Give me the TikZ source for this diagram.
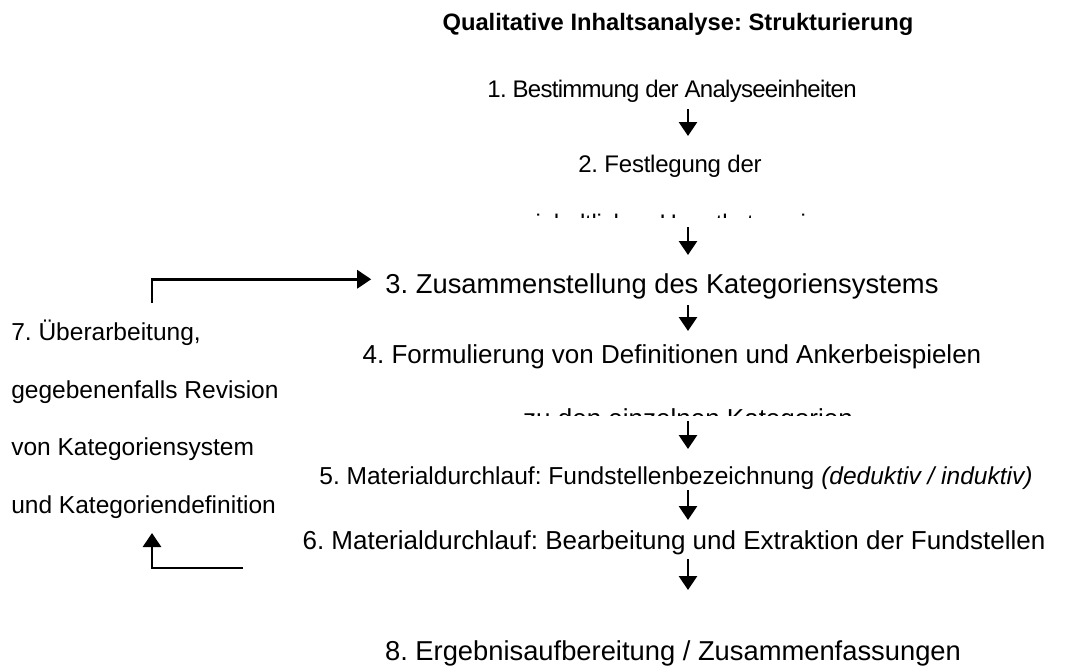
\documentclass[tikz,border=0pt]{standalone}
\usepackage{fontspec}
\setmainfont{Liberation Sans}
\usetikzlibrary{arrows.meta}
\frenchspacing

\newcommand\tracked[2]{{\addfontfeatures{LetterSpace=#1}#2}}

\tikzset{
  steptext/.style={inner sep=0pt, anchor=base, font=\fontsize{19.5}{23}\selectfont},
  smallstep/.style={steptext, font=\fontsize{18}{22}\selectfont},
  widestep/.style={steptext, font=\fontsize{20.5}{24}\selectfont},
  revtext/.style={inner sep=0pt, anchor=base west, font=\fontsize{18.4}{22}\selectfont},
  flow/.style={line width=2.2pt, -{Triangle[width=13.5pt,length=10.5pt]}}
}

\begin{document}
\begin{tikzpicture}[x=0.75pt,y=-0.75pt]
        \useasboundingbox (0,0) rectangle (1065,669);
        \coordinate (spine) at (688,0);
        \coordinate (revaxis) at (152,0);
        % title
        \node [steptext, font=\bfseries\fontsize{17.8}{21}\selectfont] (title) at (678,30) {Qualitative Inhaltsanalyse: Strukturierung};
        % steps
        \node [smallstep] (s1) at (672,97) {\tracked{-3}{1. Bestimmung der Analyseeinheiten}};
        \node [smallstep] (s2) at (670,172) {\tracked{-1}{2. Festlegung der}};
        \begin{scope}
          \clip (400,150) rectangle (950,217);
          \node [smallstep] (s2b) at (684,231) {\tracked{-1}{inhaltlichen Hauptkategorien}};
        \end{scope}
        \node [widestep] (s3) at (662,293) {3. Zusammenstellung des Kategoriensystems};
        \node [steptext] (s4) at (672,363) {4. Formulierung von Definitionen und Ankerbeispielen};
        \begin{scope}
          \clip (400,380) rectangle (950,415);
          \node [steptext] (s4b) at (688,427) {zu den einzelnen Kategorien};
        \end{scope}
        \node [steptext, font=\fontsize{18.4}{22}\selectfont] (s5) at (676,484) {5. Materialdurchlauf: Fundstellenbezeichnung \textit{(deduktiv / induktiv)}};
        \node [steptext] (s6) at (674,549) {6. Materialdurchlauf: Bearbeitung und Extraktion der Fundstellen};
        \node [widestep] (s8) at (673,660) {8. Ergebnisaufbereitung / Zusammenfassungen};
        % revision block
        \node [revtext] (r1) at (11,340) {7. Überarbeitung,};
        \node [revtext] (r2) at (11,398) {gegebenenfalls Revision};
        \node [revtext] (r3) at (11,455) {von Kategoriensystem};
        \node [revtext] (r4) at (11,513) {und Kategoriendefinition};
        \coordinate (c6) at (243,568);
        % arrows down
        \draw [flow] (s1.base -| spine) ++(0,12) -- ++(0,27);
        \draw [flow] (s2b.base -| spine) ++(0,-4) -- ++(0,28);
        \draw [flow] (s3.base -| spine) ++(0,12) -- ++(0,26);
        \draw [flow] (s4b.base -| spine) ++(0,-6) -- ++(0,28);
        \draw [flow] (s5.base -| spine) ++(0,6) -- ++(0,30);
        \draw [flow] (s6.base -| spine) ++(0,10) -- ++(0,31);
        % loop back
        \draw [flow] (r1.north -| revaxis) ++(0,-16) |- ([xshift=-10.5pt,yshift=5pt]s3.west);
        \draw [flow] (c6) -| ([yshift=-11pt]r4.south -| revaxis);
\end{tikzpicture}
\end{document}
